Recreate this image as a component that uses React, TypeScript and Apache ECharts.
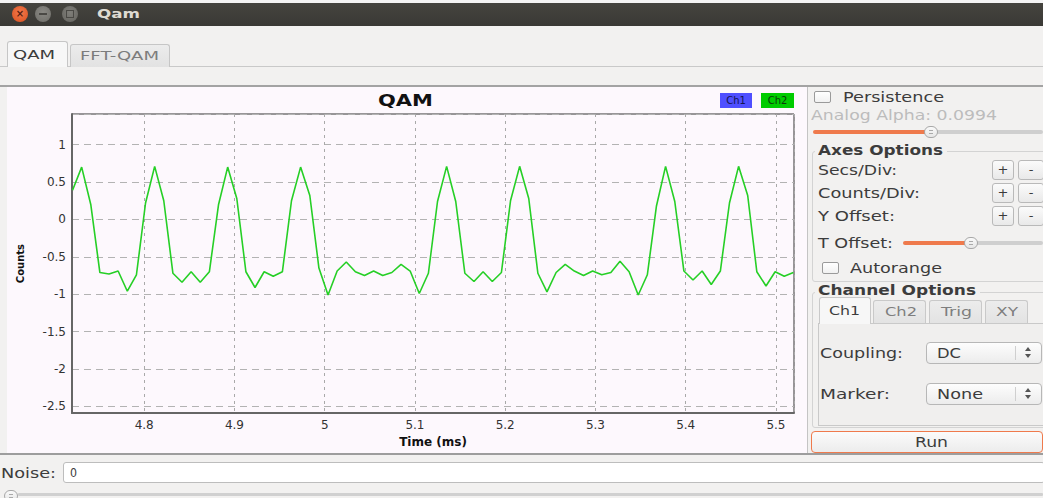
import React, { useEffect, useRef } from "react";
import * as echarts from "echarts";

// ---- data ----
const times = [
  4.7206, 4.7307, 4.7408, 4.7509, 4.761, 4.7711, 4.7813, 4.7914, 4.8015, 4.8116,
  4.8217, 4.8318, 4.8419, 4.852, 4.8621, 4.8722, 4.8824, 4.8925, 4.9026, 4.9127,
  4.9228, 4.9329, 4.943, 4.9531, 4.9632, 4.9733, 4.9835, 4.9936, 5.0037, 5.0138,
  5.0239, 5.034, 5.0441, 5.0542, 5.0643, 5.0744, 5.0846, 5.0947, 5.1048, 5.1149,
  5.125, 5.1351, 5.1452, 5.1553, 5.1654, 5.1755, 5.1857, 5.1958, 5.2059, 5.216,
  5.2261, 5.2362, 5.2463, 5.2564, 5.2665, 5.2766, 5.2868, 5.2969, 5.307, 5.3171,
  5.3272, 5.3373, 5.3474, 5.3575, 5.3676, 5.3777, 5.3879, 5.398, 5.4081, 5.4182,
  5.4283, 5.4384, 5.4485, 5.4586, 5.4687, 5.4788, 5.489, 5.4991, 5.5092, 5.5193,
];
const ch2Counts = [
  0.39, 0.7, 0.2, -0.71, -0.73, -0.69, -0.96, -0.74, 0.22, 0.71,
  0.25, -0.72, -0.84, -0.7, -0.84, -0.7, 0.2, 0.7, 0.28, -0.7,
  -0.91, -0.7, -0.76, -0.7, 0.25, 0.7, 0.32, -0.65, -1.01, -0.69,
  -0.57, -0.7, -0.75, -0.69, -0.75, -0.71, -0.6, -0.69, -0.99, -0.72,
  0.24, 0.71, 0.24, -0.72, -0.83, -0.7, -0.83, -0.71, 0.25, 0.71,
  0.28, -0.72, -0.97, -0.71, -0.6, -0.69, -0.75, -0.69, -0.74, -0.71,
  -0.56, -0.7, -1.01, -0.74, 0.18, 0.71, 0.24, -0.69, -0.81, -0.69,
  -0.87, -0.69, 0.22, 0.71, 0.32, -0.7, -0.89, -0.7, -0.76, -0.71,
];
const xRange = [4.72, 5.52];
const yRange = [-2.59, 1.41];
const chartTitle = "QAM";
const legendNames = ["Ch1", "Ch2"];
const xName = "Time (ms)";
const yName = "Counts";

const FONT = '"DejaVu Sans", sans-serif';
let mctx: CanvasRenderingContext2D | null = null;
function measure(text: string, font: string): number {
  if (!mctx) mctx = document.createElement("canvas").getContext("2d");
  mctx!.font = font;
  return mctx!.measureText(text).width || 1;
}

function Lbl(props: { text: string; x: number; x2: number; y: number; size?: number; bold?: boolean; color?: string }) {
  const { text, x, x2, y, size = 14, bold = false, color = "#3c3c3c" } = props;
  const font = `${bold ? "bold " : ""}${size}px ${FONT}`;
  const s = (x2 - x) / measure(text, font);
  return (
    <div
      style={{
        position: "absolute",
        left: x,
        top: y - size * 0.58,
        height: size * 1.2,
        lineHeight: `${size * 1.2}px`,
        fontFamily: FONT,
        fontSize: size,
        fontWeight: bold ? 700 : 400,
        color,
        whiteSpace: "nowrap",
        transform: `scaleX(${s})`,
        transformOrigin: "0 50%",
      }}
    >
      {text}
    </div>
  );
}

function Box(props: { x: number; y: number; w: number; h: number; style?: React.CSSProperties; children?: React.ReactNode }) {
  return (
    <div style={{ position: "absolute", left: props.x, top: props.y, width: props.w, height: props.h, boxSizing: "border-box", ...props.style }}>
      {props.children}
    </div>
  );
}

function Check(props: { x: number; y: number }) {
  return (
    <Box
      x={props.x}
      y={props.y}
      w={17}
      h={12}
      style={{ border: "1px solid #9a9a9a", borderRadius: 2, background: "linear-gradient(#ffffff,#f1f1f1)" }}
    />
  );
}

function Btn(props: { x: number; y: number; w: number; h: number; label: string }) {
  return (
    <Box
      x={props.x}
      y={props.y}
      w={props.w}
      h={props.h}
      style={{
        border: "1px solid #b9b9b9",
        borderRadius: 3,
        background: "linear-gradient(#fbfbfb,#e9e9e9)",
        textAlign: "center",
        lineHeight: `${props.h - 2}px`,
        fontFamily: FONT,
        fontSize: 13,
        color: "#3c3c3c",
      }}
    >
      {props.label}
    </Box>
  );
}

function Handle(props: { x: number; y: number }) {
  return (
    <Box
      x={props.x}
      y={props.y}
      w={14}
      h={12}
      style={{ border: "1px solid #a8a8a8", borderRadius: 6, background: "linear-gradient(#fafafa,#e6e6e6)" }}
    >
      <div style={{ position: "absolute", left: 4, top: 3, width: 4, height: 2, borderTop: "1px solid #aaa", borderBottom: "1px solid #aaa" }} />
    </Box>
  );
}

function Slider(props: { x: number; xh: number; x2: number; y: number }) {
  return (
    <>
      <Box x={props.x} y={props.y - 2} w={props.xh - props.x} h={4} style={{ background: "#ef7a4c", borderRadius: 2 }} />
      <Box x={props.xh} y={props.y - 2} w={props.x2 - props.xh} h={4} style={{ background: "#cfcfcf", borderRadius: 2 }} />
      <Handle x={props.xh - 7} y={props.y - 6} />
    </>
  );
}

function Combo(props: { x: number; y: number; w: number; h: number }) {
  return (
    <Box
      x={props.x}
      y={props.y}
      w={props.w}
      h={props.h}
      style={{ border: "1px solid #b7b7b7", borderRadius: 4, background: "linear-gradient(#fdfdfd,#ececec)" }}
    >
      <div style={{ position: "absolute", left: 88, top: 3, width: 1, height: props.h - 8, background: "#cfcfcf" }} />
      <div style={{ position: "absolute", left: 98, top: 4, width: 0, height: 0, borderLeft: "3px solid transparent", borderRight: "3px solid transparent", borderBottom: "4px solid #555" }} />
      <div style={{ position: "absolute", left: 98, top: 11, width: 0, height: 0, borderLeft: "3px solid transparent", borderRight: "3px solid transparent", borderTop: "4px solid #555" }} />
    </Box>
  );
}

function buildOption() {
  const titleFont = `bold 15px ${FONT}`;
  const titleScale = 55 / measure(chartTitle, titleFont);
  return {
    animation: false,
    backgroundColor: "#fdf8fd",
    grid: { left: 65, top: 27, right: 13, bottom: 36, show: true, borderColor: "#333", borderWidth: 1 },
    xAxis: {
      type: "value",
      min: xRange[0],
      max: xRange[1],
      splitNumber: 8,
      minInterval: 0.1,
      maxInterval: 0.1,
      axisLine: { show: true, onZero: false, lineStyle: { color: "#666", width: 2 } },
      axisTick: { show: false },
      axisLabel: { showMinLabel: false, showMaxLabel: false, color: "#333", fontSize: 12, fontFamily: FONT, margin: 6 },
      splitLine: { show: true, lineStyle: { color: "#a9a9a9", type: [3, 4], width: 1 } },
      name: xName,
      nameLocation: "middle",
      nameGap: 21,
      nameTextStyle: { fontWeight: "bold", fontSize: 12, fontFamily: FONT, color: "#111" },
    },
    yAxis: {
      type: "value",
      min: yRange[0],
      max: yRange[1],
      splitNumber: 8,
      minInterval: 0.5,
      maxInterval: 0.5,
      axisLine: { show: true, onZero: false, lineStyle: { color: "#666", width: 2 } },
      axisTick: { show: false },
      axisLabel: { showMinLabel: false, showMaxLabel: false, color: "#333", fontSize: 12, fontFamily: FONT, margin: 6 },
      splitLine: { show: true, lineStyle: { color: "#b3b3b3", type: [7, 5], width: 1 } },
      name: yName,
      nameLocation: "middle",
      nameGap: 47,
      nameTextStyle: { fontWeight: "bold", fontSize: 10, fontFamily: FONT, color: "#111" },
    },
    graphic: [
      {
        type: "text",
        x: 371,
        y: 14,
        scaleX: titleScale,
        style: { text: chartTitle, font: titleFont, fill: "#111", align: "left", verticalAlign: "middle" },
      },
      { type: "rect", shape: { x: 713, y: 6, width: 32, height: 15 }, style: { fill: "#4f4fff" } },
      {
        type: "text",
        x: 729,
        y: 13.5,
        style: { text: legendNames[0], font: `10px ${FONT}`, fill: "#141450", align: "center", verticalAlign: "middle" },
      },
      { type: "rect", shape: { x: 754, y: 6, width: 33, height: 15 }, style: { fill: "#00cc00" } },
      {
        type: "text",
        x: 770.5,
        y: 13.5,
        style: { text: legendNames[1], font: `10px ${FONT}`, fill: "#0b3a0b", align: "center", verticalAlign: "middle" },
      },
    ],
    series: [
      {
        name: legendNames[1],
        type: "line",
        data: times.map((t, i) => [t, ch2Counts[i]]),
        showSymbol: false,
        clip: true,
        lineStyle: { color: "#26cf26", width: 1.6 },
      },
    ],
  };
}

export default function App() {
  const ref = useRef<HTMLDivElement>(null);
  useEffect(() => {
    const chart = echarts.init(ref.current!, null, { renderer: "svg" });
    chart.setOption(buildOption() as any);
    return () => chart.dispose();
  }, []);

  return (
    <div
      style={{
        position: "fixed",
        left: 0,
        top: 0,
        width: 1043,
        height: 498,
        overflow: "hidden",
        background: "#f2f1f0",
        fontFamily: FONT,
      }}
    >
      {/* title bar */}
      <Box x={0} y={0} w={1043} h={3} style={{ background: "#f4f4f4" }} />
      <Box x={0} y={3} w={1043} h={23} style={{ background: "linear-gradient(#45443f,#3a3935)" }} />
      <Box x={12} y={6} w={16} h={16} style={{ borderRadius: 8, background: "radial-gradient(circle at 50% 40%, #f37a4d, #d9501f)" }}>
        <div style={{ position: "absolute", left: 0, top: 0, width: 16, lineHeight: "16px", textAlign: "center", fontSize: 10, color: "#5a2010", fontWeight: 700 }}>×</div>
      </Box>
      <Box x={35} y={6} w={16} h={16} style={{ borderRadius: 8, background: "radial-gradient(circle at 50% 40%, #8a8984, #6e6d68)" }}>
        <div style={{ position: "absolute", left: 4, top: 7, width: 8, height: 2, background: "#4a4945" }} />
      </Box>
      <Box x={62} y={6} w={16} h={16} style={{ borderRadius: 8, background: "radial-gradient(circle at 50% 40%, #7f7e79, #65645f)" }}>
        <div style={{ position: "absolute", left: 4, top: 4, width: 8, height: 8, boxSizing: "border-box", border: "1px solid #4a4945" }} />
      </Box>
      <Lbl text="Qam" x={97} x2={140} y={14} size={13} bold color="#dfdbd2" />

      {/* tab bar */}
      <Box x={67} y={66} w={976} h={1} style={{ background: "#c9c9c9" }} />
      <Box x={0} y={66} w={7} h={1} style={{ background: "#c9c9c9" }} />
      <Box x={70} y={44} w={100} h={23} style={{ background: "linear-gradient(#ececec,#e2e2e2)", border: "1px solid #c6c6c6", borderBottom: "none", borderRadius: "3px 3px 0 0" }} />
      <Box x={7} y={41} w={61} h={26} style={{ background: "#f7f7f7", border: "1px solid #c6c6c6", borderBottom: "none", borderRadius: "3px 3px 0 0" }} />
      <Lbl text="QAM" x={13} x2={55} y={55} size={12} color="#3c3c3c" />
      <Lbl text="FFT-QAM" x={80} x2={159} y={56} size={12} color="#7c7c7c" />
      <Box x={0} y={85} w={1043} h={2} style={{ background: "#a3a3a3" }} />

      {/* chart */}
      <div ref={ref} style={{ position: "absolute", left: 7, top: 87, width: 800, height: 366 }} />
      <Box x={807} y={87} w={1} h={366} style={{ background: "#c4c4c4" }} />

      {/* right control panel */}
      <Check x={814} y={91} />
      <Lbl text="Persistence" x={843} x2={944} y={97.5} />
      <Lbl text="Analog Alpha: 0.0994" x={811} x2={997} y={115} color="#bcbcbc" />
      <Slider x={813} xh={931} x2={1043} y={132} />

      <Box x={812} y={151} w={240} h={131} style={{ border: "1px solid #d3d3d3", borderRadius: 3 }} />
      <Box x={815} y={143} w={132} h={14} style={{ background: "#f2f1f0" }} />
      <Lbl text="Axes Options" x={818} x2={943} y={150} bold />
      <Lbl text="Secs/Div:" x={818} x2={897} y={170} />
      <Btn x={992} y={160} w={22} h={20} label="+" />
      <Btn x={1018} y={160} w={26} h={20} label="-" />
      <Lbl text="Counts/Div:" x={818} x2={920} y={193} />
      <Btn x={992} y={183} w={22} h={20} label="+" />
      <Btn x={1018} y={183} w={26} h={20} label="-" />
      <Lbl text="Y Offset:" x={818} x2={895} y={216} />
      <Btn x={992} y={206} w={22} h={20} label="+" />
      <Btn x={1018} y={206} w={26} h={20} label="-" />
      <Lbl text="T Offset:" x={818} x2={893} y={243} />
      <Slider x={903} xh={971} x2={1043} y={243} />
      <Check x={822} y={262} />
      <Lbl text="Autorange" x={850} x2={942} y={268} />

      <Box x={812} y={292} w={240} h={136} style={{ border: "1px solid #d3d3d3", borderRadius: 3 }} />
      <Box x={815} y={283} w={165} h={14} style={{ background: "#f2f1f0" }} />
      <Lbl text="Channel Options" x={818} x2={976} y={290} bold />
      <Box x={818} y={323} w={232} h={103} style={{ border: "1px solid #c9c9c9", background: "#f0efee" }} />
      <Box x={873} y={300} w={53} h={23} style={{ background: "linear-gradient(#ececec,#e3e3e3)", border: "1px solid #c9c9c9", borderBottom: "none", borderRadius: "3px 3px 0 0" }} />
      <Box x={929} y={300} w={53} h={23} style={{ background: "linear-gradient(#ececec,#e3e3e3)", border: "1px solid #c9c9c9", borderBottom: "none", borderRadius: "3px 3px 0 0" }} />
      <Box x={985} y={300} w={43} h={23} style={{ background: "linear-gradient(#ececec,#e3e3e3)", border: "1px solid #c9c9c9", borderBottom: "none", borderRadius: "3px 3px 0 0" }} />
      <Box x={819} y={297} w={52} h={27} style={{ background: "#f7f7f7", border: "1px solid #c9c9c9", borderBottom: "none", borderRadius: "3px 3px 0 0" }} />
      <Lbl text="Ch1" x={829} x2={860} y={311} size={13} />
      <Lbl text="Ch2" x={885} x2={917} y={312} size={13} color="#7e7e7e" />
      <Lbl text="Trig" x={941} x2={972} y={312} size={13} color="#7e7e7e" />
      <Lbl text="XY" x={996} x2={1018} y={312} size={13} color="#7e7e7e" />

      <Lbl text="Coupling:" x={820} x2={903} y={353} />
      <Combo x={926} y={342} w={116} h={22} />
      <Lbl text="DC" x={937} x2={961} y={353} />
      <Lbl text="Marker:" x={820} x2={890} y={394} />
      <Combo x={926} y={383} w={116} h={22} />
      <Lbl text="None" x={937} x2={983} y={394} />

      <Box x={811} y={431} w={232} h={22} style={{ border: "1px solid #ef7a4c", borderRadius: 4, background: "linear-gradient(#fbfbfb,#ececec)" }} />
      <Lbl text="Run" x={915} x2={948} y={442} />

      {/* bottom */}
      <Box x={0} y={453} w={1043} h={2} style={{ background: "#9d9d9d" }} />
      <Lbl text="Noise:" x={1} x2={56} y={473} />
      <Box x={63} y={462} w={982} h={21} style={{ border: "1px solid #bdbdbd", borderRadius: 3, background: "#ffffff" }} />
      <Lbl text="0" x={70} x2={77} y={473} size={13} />
      <Box x={18} y={493} w={1025} h={3} style={{ background: "#d0d0d0", borderRadius: 1 }} />
      <Handle x={4} y={490} />
    </div>
  );
}
